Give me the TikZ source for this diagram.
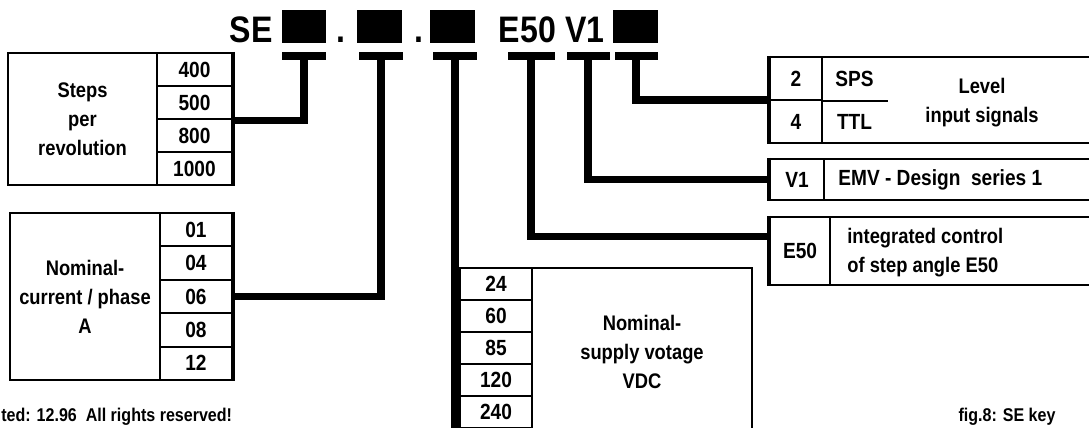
\documentclass[tikz,border=0pt]{standalone}
\usepackage{fontspec}
\setmainfont[FakeStretch=0.87]{Liberation Sans}
\usepackage{tikz}
\usetikzlibrary{positioning, calc}
\tikzset{
  cell/.style={rectangle, draw=black, line width=1.2pt, inner sep=0pt,
    font=\fontsize{12.5}{14}\selectfont\bfseries},
  lbl/.style={rectangle, draw=black, line width=1.3pt, inner sep=0pt,
    align=center, font=\fontsize{12}{16.5}\selectfont\bfseries},
  txt/.style={inner sep=0pt, font=\fontsize{12}{16.5}\selectfont\bfseries},
  blk/.style={rectangle, fill=black, inner sep=0pt},
  hdr/.style={inner sep=0pt, anchor=base, font=\fontsize{21}{24}\selectfont\bfseries},
  conn/.style={line width=4pt, color=black},
  sideline/.style={line width=2.6pt, color=black}
}

\begin{document}
\begin{tikzpicture}[x=0.02cm, y=-0.02cm]
  \useasboundingbox (0,0) rectangle (1089,428);

  % Type key
  \node[hdr] (se) at (251,43) {SE};
  \node[blk, minimum width=0.88cm, minimum height=0.66cm] (sq1) at (304,26.5) {};
  \node[hdr] (dot1) at (341,43) {.};
  \node[blk, minimum width=0.9cm, minimum height=0.66cm] (sq2) at (379.5,26.5) {};
  \node[hdr] (dot2) at (419,43) {.};
  \node[blk, minimum width=0.9cm, minimum height=0.66cm] (sq3) at (452.5,26.5) {};
  \node[hdr] (e50) at (527.5,43) {E50};
  \node[hdr] (v1) at (585,43) {V1};
  \node[blk, minimum width=0.9cm, minimum height=0.66cm] (sq4) at (635.5,26.5) {};

  % Bars below the key
  \node[blk, minimum width=0.88cm, minimum height=0.16cm] (bar1) at (304,56) {};
  \node[blk, minimum width=0.88cm, minimum height=0.16cm] (bar2) at (381,56) {};
  \node[blk, minimum width=0.88cm, minimum height=0.16cm] (bar3) at (455,56) {};
  \node[blk, minimum width=0.94cm, minimum height=0.16cm] (ebar) at (531,56) {};
  \node[blk, minimum width=0.86cm, minimum height=0.16cm] (vbar) at (588,56) {};
  \node[blk, minimum width=0.86cm, minimum height=0.16cm] (bar4) at (636,56) {};

  % Steps per revolution
  \node[lbl, minimum width=2.98cm, minimum height=2.64cm] (stepslbl) at (82.5,119) {Steps\\per\\revolution};
  \node[cell, minimum width=1.5cm, minimum height=0.66cm] (s400) at (194.5,69.5) {400};
  \node[cell, minimum width=1.5cm, minimum height=0.66cm] (s500) at (194.5,102.5) {500};
  \node[cell, minimum width=1.5cm, minimum height=0.66cm] (s800) at (194.5,135.5) {800};
  \node[cell, minimum width=1.5cm, minimum height=0.66cm] (s1000) at (194.5,168.5) {1000};
  \draw[sideline] (s400.north east) -- (s1000.south east);

  % Nominal current
  \node[lbl, minimum width=3cm, minimum height=3.34cm] (curlbl) at (85,296.5) {Nominal-\\current / phase\\A};
  \node[cell, minimum width=1.44cm, minimum height=0.668cm] (c01) at (196,229.7) {01};
  \node[cell, minimum width=1.44cm, minimum height=0.668cm] (c04) at (196,263.1) {04};
  \node[cell, minimum width=1.44cm, minimum height=0.668cm] (c06) at (196,296.5) {06};
  \node[cell, minimum width=1.44cm, minimum height=0.668cm] (c08) at (196,329.9) {08};
  \node[cell, minimum width=1.44cm, minimum height=0.668cm] (c12) at (196,363.3) {12};
  \draw[sideline] (c01.north east) -- (c12.south east);

  % Supply voltage
  \node[cell, minimum width=1.44cm, minimum height=0.64cm] (v24) at (496,284) {24};
  \node[cell, minimum width=1.44cm, minimum height=0.64cm] (v60) at (496,316) {60};
  \node[cell, minimum width=1.44cm, minimum height=0.64cm] (v85) at (496,348) {85};
  \node[cell, minimum width=1.44cm, minimum height=0.64cm] (v120) at (496,380) {120};
  \node[cell, minimum width=1.44cm, minimum height=0.64cm] (v240) at (496,412) {240};
  \node[lbl, minimum width=4.4cm, minimum height=3.36cm] (voltlbl) at (642,352) {Nominal-\\supply votage\\VDC};
  \coordinate (vend) at (455,445);

  % Level input signals
  \node[lbl, minimum width=6.8cm, minimum height=1.72cm] (lvlbox) at (940,100) {};
  \node[cell, minimum width=1.04cm, minimum height=0.86cm] (l2) at (796,78.5) {2};
  \node[cell, minimum width=1.04cm, minimum height=0.86cm] (l4) at (796,121.5) {4};
  \node[cell, draw=none, minimum width=1.3cm, minimum height=0.86cm] (lsps) at (854.5,78.5) {SPS};
  \node[cell, draw=none, minimum width=1.3cm, minimum height=0.86cm] (lttl) at (854.5,121.5) {TTL};
  \draw[line width=1.2pt] (l2.south east) -- (lsps.south east);
  \node[txt, align=center] (lvltxt) at (982,103) {Level\\input signals};
  \draw[sideline] (lvlbox.north west) -- (lvlbox.south west);

  % Design series
  \node[lbl, minimum width=6.8cm, minimum height=0.82cm] (v1box) at (940,179.5) {};
  \node[cell, minimum width=1.08cm, minimum height=0.82cm] (v1cell) at (797,179.5) {V1};
  \node[txt, anchor=west, font=\fontsize{12.5}{15}\selectfont\bfseries] (v1txt) at (838,180) {EMV - Design\ \ series 1};
  \draw[sideline] (v1box.north west) -- (v1box.south west);

  % Step angle control
  \node[lbl, minimum width=6.8cm, minimum height=1.36cm] (e50box) at (940,251) {};
  \node[cell, minimum width=1.2cm, minimum height=1.36cm] (e50cell) at (800,251) {E50};
  \node[txt, anchor=west, align=left] (e50txt) at (847,253) {integrated control\\of step angle E50};
  \draw[sideline] (e50box.north west) -- (e50box.south west);

  % Connections
  \draw[conn] (bar1.south) |- (s500.south east);
  \draw[conn] (bar2.south) |- (c06.east);
  \draw[conn] (bar3.south) -- (vend);
  \draw[conn] (ebar.south) |- ($(e50box.north west)!0.3!(e50box.south west)$);
  \draw[conn] (vbar.south) |- (v1box.west);
  \draw[conn] (bar4.south) |- (lvlbox.west);

  % Footer
  \node[txt, anchor=base west, font=\fontsize{10.5}{12}\selectfont\bfseries] (note) at (1,422) {ted: 12.96\ \ All rights reserved!};
  \node[txt, anchor=base, font=\fontsize{10.5}{12}\selectfont\bfseries] (fig) at (1007,422) {fig.8: SE key};
\end{tikzpicture}
\end{document}
